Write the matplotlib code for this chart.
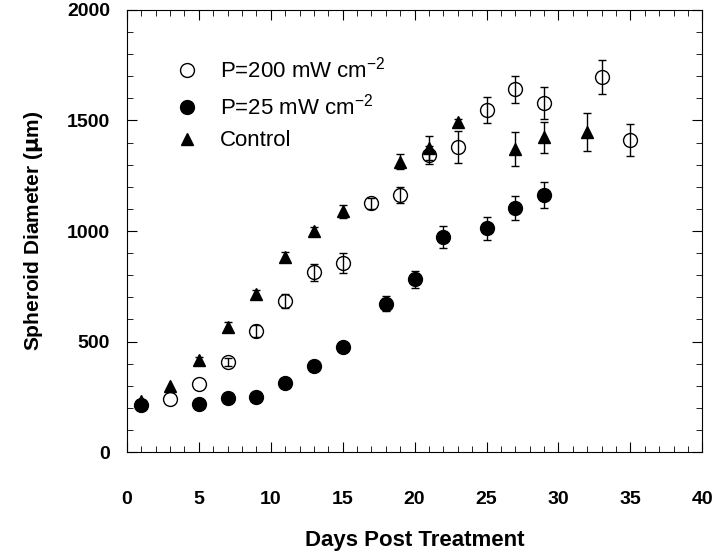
import matplotlib
matplotlib.use("Agg")
import matplotlib.pyplot as plt
from matplotlib.ticker import MultipleLocator

plt.rcParams['font.family'] = ['Liberation Sans', 'DejaVu Sans']
plt.rcParams['mathtext.default'] = 'regular'

# P=200 mW cm-2 (open circles)
days_200 = [3, 5, 7, 9, 11, 13, 15, 17, 19, 21, 23, 25, 27, 29, 33, 35]
diam_200 = [240, 308, 407, 548, 682, 813, 855, 1125, 1163, 1344, 1381, 1547, 1641, 1578, 1698, 1412]
err_200 = [0, 0, 18, 29, 31, 38, 44, 25, 36, 42, 72, 59, 62, 72, 77, 72]

# P=25 mW cm-2 (filled circles)
days_25 = [1, 5, 7, 9, 11, 13, 15, 18, 20, 22, 25, 27, 29]
diam_25 = [213, 217, 243, 247, 311, 391, 474, 670, 781, 974, 1012, 1104, 1164]
err_25 = [0, 0, 0, 0, 0, 10, 15, 34, 39, 49, 51, 56, 58]

# Control (triangles)
days_ctl = [1, 3, 5, 7, 9, 11, 13, 15, 19, 21, 23, 27, 29, 32]
diam_ctl = [232, 299, 416, 567, 715, 884, 1001, 1089, 1314, 1374, 1495, 1371, 1424, 1449]
err_ctl = [0, 0, 12, 20, 20, 20, 15, 30, 33, 55, 10, 75, 70, 86]

fig = plt.figure(figsize=(7.13, 5.52), dpi=100)
ax = fig.add_axes([0.178, 0.181, 0.807, 0.801])

ebkw = dict(ecolor='black', elinewidth=1.0, capsize=3, capthick=1.0, linestyle='none')
ax.errorbar(days_200, diam_200, yerr=err_200, errorevery=[e > 0 for e in err_200],
            fmt='o', mfc='none', mec='black', mew=1.0, ms=10,
            label='P=200 mW cm$^{-2}$', **ebkw)
ax.errorbar(days_25, diam_25, yerr=err_25, errorevery=[e > 0 for e in err_25],
            fmt='o', mfc='black', mec='black', ms=10,
            label='P=25 mW cm$^{-2}$', **ebkw)
ax.errorbar(days_ctl, diam_ctl, yerr=err_ctl, errorevery=[e > 0 for e in err_ctl],
            fmt='^', mfc='black', mec='black', ms=8,
            label='Control', **ebkw)

ax.set_xlim(0, 40)
ax.set_ylim(0, 2000)
ax.xaxis.set_major_locator(MultipleLocator(5))
ax.xaxis.set_minor_locator(MultipleLocator(1))
ax.yaxis.set_major_locator(MultipleLocator(500))
ax.yaxis.set_minor_locator(MultipleLocator(100))
ax.tick_params(which='both', direction='in', top=True, right=True)
ax.tick_params(which='major', length=7, labelsize=14)
ax.tick_params(which='minor', length=4)
ax.tick_params(axis='x', which='major', pad=28)
ax.tick_params(axis='y', which='major', pad=12)
for lab in ax.get_xticklabels() + ax.get_yticklabels():
    lab.set_fontweight('bold')

ax.set_xlabel('Days Post Treatment', fontsize=16, fontweight='bold', labelpad=16)
ax.set_ylabel('Spheroid Diameter ($\\mathbf{\\mu}$m)', fontsize=15, fontweight='bold', labelpad=16)

handles, labels = ax.get_legend_handles_labels()
handles = [h[0] for h in handles]
ax.legend(handles, labels, loc='upper left', bbox_to_anchor=(0.05, 0.94), frameon=False,
          fontsize=16, handletextpad=1.0, labelspacing=0.5, handlelength=1.0)

fig.savefig('out.png', dpi=100)
